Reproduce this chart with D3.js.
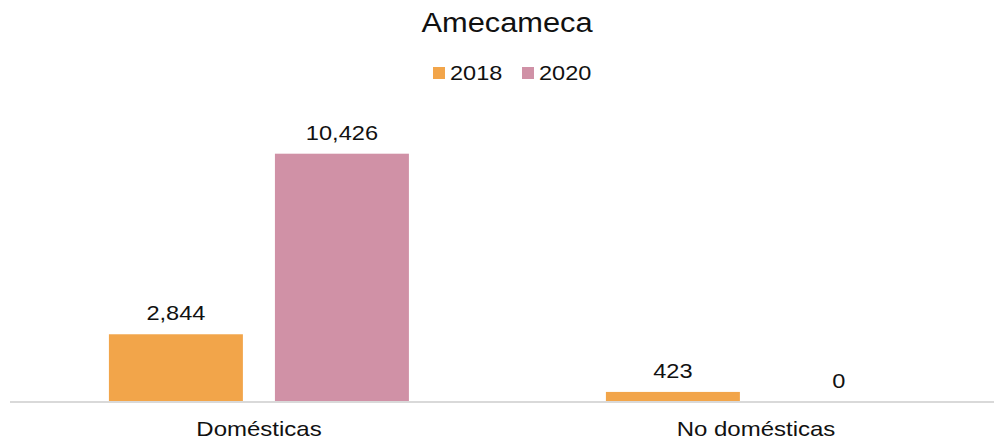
<!DOCTYPE html>
<html>
<head>
<meta charset="utf-8">
<script src="https://cdn.jsdelivr.net/npm/d3@7"></script>
<style>
  html, body { margin: 0; padding: 0; background: #fff; }
  svg { display: block; }
  text { font-family: "Liberation Sans", Arial, sans-serif; fill: #111; }
</style>
</head>
<body>
<svg id="chart" width="995" height="441"></svg>
<script>
const title = "Amecameca";
const categories = ["Domésticas", "No domésticas"];
const seriesNames = ["2018", "2020"];
const values2018 = [2844, 423];
const values2020 = [10426, 0];
const colors = ["#F2A54A", "#D091A6"];

const svg = d3.select("#chart");
const W = 995, H = 441;
const baseY = 402;

const x0 = d3.scaleBand().domain(categories).range([10.5, 1004.5]).padding(0);
const x1 = d3.scaleBand().domain(seriesNames)
  .range([x0.bandwidth() * 0.198, x0.bandwidth() * 0.198 + 300])
  .paddingInner(0.193).paddingOuter(0);
const y = d3.scaleLinear().domain([0, 12000]).range([baseY, baseY - 248.3 / 10426 * 12000]);

const fmt = d3.format(",");
const data = categories.map((c, i) => ({
  cat: c,
  vals: [{s: "2018", v: values2018[i]}, {s: "2020", v: values2020[i]}]
}));

function stretchedText(sel, sx) {
  sel.attr("transform", function() {
    const d = d3.select(this);
    const tx = +d.attr("data-x"), ty = +d.attr("data-y");
    return `translate(${tx},${ty}) scale(${sx},1)`;
  });
}

// bars
const groups = svg.append("g").selectAll("g").data(data).join("g")
  .attr("transform", d => `translate(${x0(d.cat)},0)`);
groups.selectAll("rect").data(d => d.vals).join("rect")
  .attr("x", d => x1(d.s))
  .attr("width", x1.bandwidth())
  .attr("y", d => y(d.v))
  .attr("height", d => y(0) - y(d.v))
  .attr("fill", (d, i) => colors[i]);
groups.selectAll("text.val").data(d => d.vals).join("text")
  .attr("class", "val")
  .attr("text-anchor", "middle")
  .attr("font-size", 20)
  .attr("data-x", d => x1(d.s) + x1.bandwidth() / 2)
  .attr("data-y", d => y(d.v) - 14)
  .text(d => fmt(d.v))
  .call(stretchedText, 1.18);

// baseline axis
const xAxis = d3.axisBottom(x0).tickSize(0).tickPadding(0);
const axisG = svg.append("g").attr("transform", `translate(0,${baseY})`).call(xAxis);
axisG.select(".domain").remove();
axisG.append("line").attr("x1", 10).attr("x2", 994).attr("y1", 0).attr("y2", 0)
  .attr("stroke", "#D9D9D9").attr("stroke-width", 2);
axisG.selectAll(".tick text")
  .attr("font-size", 20)
  .attr("font-family", "'Liberation Sans', Arial, sans-serif")
  .attr("fill", "#111")
  .attr("dy", null)
  .attr("y", 0)
  .attr("transform", "translate(0,34) scale(1.2,1)");

// title
svg.append("text")
  .attr("text-anchor", "middle")
  .attr("font-size", 28)
  .attr("data-x", 507).attr("data-y", 32)
  .text(title)
  .call(stretchedText, 1.1);

// legend
const legendX = [433, 522];
const leg = svg.append("g").selectAll("g").data(seriesNames).join("g");
leg.append("rect")
  .attr("x", (d, i) => legendX[i]).attr("y", 67)
  .attr("width", 12).attr("height", 12)
  .attr("fill", (d, i) => colors[i]);
leg.append("text")
  .attr("font-size", 21)
  .attr("data-x", (d, i) => legendX[i] + 17).attr("data-y", 80)
  .text(d => d)
  .call(stretchedText, 1.12);
</script>
</body>
</html>
